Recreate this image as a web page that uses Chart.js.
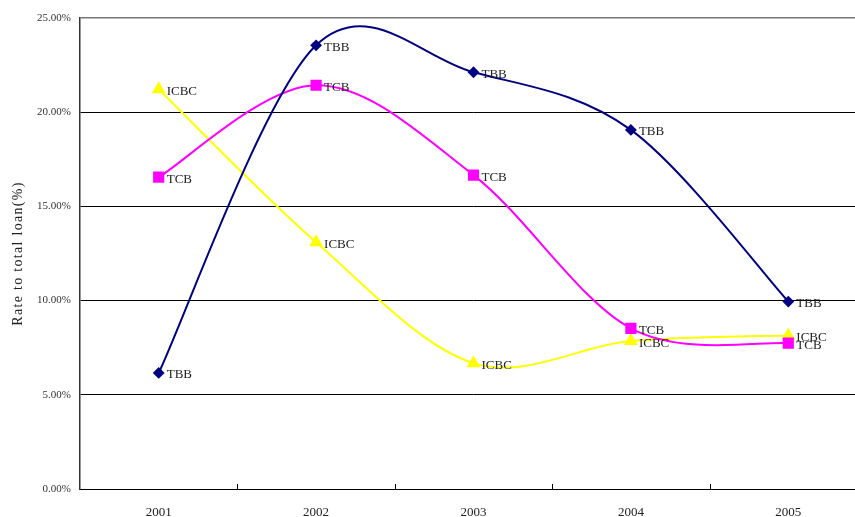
<!DOCTYPE html>
<html>
<head>
<meta charset="utf-8">
<script src="https://cdn.jsdelivr.net/npm/chart.js@4/dist/chart.umd.min.js"></script>
<style>
  html, body { margin: 0; padding: 0; background: #fff; overflow: hidden; width: 855px; height: 517px; }
  #wrap { width: 880px; height: 517px; }
</style>
</head>
<body>
<div id="wrap"><canvas id="c" width="880" height="517"></canvas></div>
<script>
const years = ['2001', '2002', '2003', '2004', '2005'];
const tbb  = [6.16, 23.55, 22.12, 19.06, 9.95];
const tcb  = [16.55, 21.43, 16.66, 8.53, 7.74];
const icbc = [21.22, 13.10, 6.68, 7.85, 8.15];
const yTicks = [0, 5, 10, 15, 20, 25];
const yTitle = 'Rate to total loan(%)';

const serif = "'Liberation Serif', 'DejaVu Serif', serif";

// Excel-style smoothing: uniform Catmull-Rom control points computed from the
// library's own point positions.
const excelSmooth = {
  id: 'excelSmooth',
  beforeDatasetsDraw(chart) {
    chart.data.datasets.forEach((ds, di) => {
      const meta = chart.getDatasetMeta(di);
      const pts = meta.data, n = pts.length;
      for (let i = 0; i < n; i++) {
        const p = pts[i];
        const prev = pts[Math.max(i - 1, 0)];
        const next = pts[Math.min(i + 1, n - 1)];
        const dx = (next.x - prev.x) / 6, dy = (next.y - prev.y) / 6;
        p.cp1x = p.x - dx; p.cp1y = p.y - dy;
        p.cp2x = p.x + dx; p.cp2y = p.y + dy;
      }
      if (meta.dataset) {
        meta.dataset._pointsUpdated = true;
        meta.dataset._path = undefined;
      }
    });
  }
};

const pointLabels = {
  id: 'pointLabels',
  afterDatasetsDraw(chart) {
    const ctx = chart.ctx;
    ctx.save();
    ctx.font = "13px " + serif;
    ctx.fillStyle = '#222';
    ctx.textAlign = 'left';
    ctx.textBaseline = 'middle';
    chart.data.datasets.forEach((ds, di) => {
      const meta = chart.getDatasetMeta(di);
      meta.data.forEach(pt => {
        ctx.fillText(ds.label, pt.x + 8, pt.y + 2);
      });
    });
    ctx.restore();
  }
};

const innerTicks = {
  id: 'innerTicks',
  afterDraw(chart) {
    const xs = chart.scales.x;
    const ctx = chart.ctx;
    const bottom = chart.chartArea.bottom;
    ctx.save();
    ctx.strokeStyle = '#000';
    ctx.lineWidth = 1;
    for (let i = 0; i < years.length - 1; i++) {
      const x = Math.round((xs.getPixelForValue(i) + xs.getPixelForValue(i + 1)) / 2) + 0.5;
      ctx.beginPath();
      ctx.moveTo(x, bottom);
      ctx.lineTo(x, bottom - 5);
      ctx.stroke();
    }
    ctx.restore();
  }
};

const yTitlePlugin = {
  id: 'yTitlePlugin',
  afterDraw(chart) {
    const ctx = chart.ctx;
    const a = chart.chartArea;
    ctx.save();
    ctx.font = "14px " + serif;
    ctx.fillStyle = '#222';
    ctx.letterSpacing = '1.3px';
    ctx.textAlign = 'center';
    ctx.textBaseline = 'middle';
    ctx.translate(18, (a.top + a.bottom) / 2);
    ctx.rotate(-Math.PI / 2);
    ctx.fillText(yTitle, 0, 0);
    ctx.restore();
  }
};

new Chart(document.getElementById('c'), {
  type: 'line',
  data: {
    labels: years,
    datasets: [
      { label: 'TBB', data: tbb, borderColor: '#000080', backgroundColor: '#000080',
        pointStyle: 'rectRot', pointRadius: 4.5, borderWidth: 2 },
      { label: 'TCB', data: tcb, borderColor: '#FF00FF', backgroundColor: '#FF00FF',
        pointStyle: 'rect', pointRadius: 6.5, borderWidth: 2 },
      { label: 'ICBC', data: icbc, borderColor: '#FFFF00', backgroundColor: '#FFFF00',
        pointStyle: 'triangle', pointRadius: 6, borderWidth: 2 }
    ]
  },
  options: {
    responsive: false,
    animation: false,
    devicePixelRatio: 1,
    elements: { line: { tension: 0.4, capBezierPoints: false }, point: { borderWidth: 0 } },
    layout: { padding: { top: 18, right: 13, left: 0, bottom: 0 } },
    plugins: { legend: { display: false }, tooltip: { enabled: false } },
    scales: {
      x: {
        offset: true,
        grid: { display: false, drawTicks: false },
        border: { display: true, color: '#000', width: 1 },
        ticks: { color: '#222', font: { family: serif, size: 13 }, padding: 16 },
        afterFit(s) { s.height = 28; }
      },
      y: {
        min: 0, max: 25,
        afterBuildTicks(s) { s.ticks = yTicks.map(v => ({ value: v })); },
        grid: {
          color: c => (c.tick && c.tick.value === 25 ? '#777' : '#000'),
          lineWidth: c => (c.tick && c.tick.value === 25 ? 1.5 : 1),
          drawTicks: false
        },
        border: { display: true, color: '#333', width: 1.5 },
        ticks: { color: '#333', font: { family: serif, size: 11 }, padding: 9,
                 callback: v => v.toFixed(2) + '%' },
        afterFit(s) { s.width = 80; }
      }
    }
  },
  plugins: [excelSmooth, pointLabels, innerTicks, yTitlePlugin]
});
</script>
</body>
</html>
